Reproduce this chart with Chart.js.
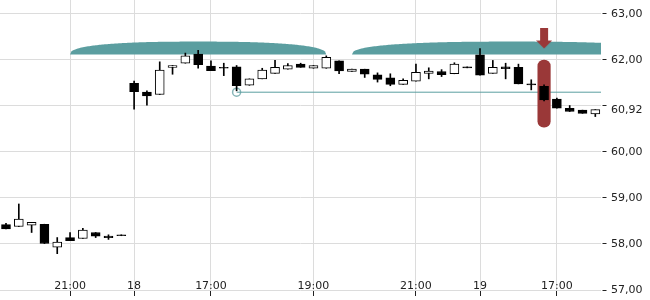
<!DOCTYPE html>
<html>
<head>
<meta charset="utf-8">
<script src="https://cdn.jsdelivr.net/npm/chart.js@4.4.1/dist/chart.umd.min.js"></script>
<style>
html,body{margin:0;padding:0;background:#fff;}
#wrap{width:650px;height:300px;}
</style>
</head>
<body>
<div id="wrap"><canvas id="c" width="650" height="300"></canvas></div>
<script>
// ---- data ----
const opens  = [58.42,58.38,58.41,58.43,57.93,58.14,58.12,58.25,58.17,58.20,
                61.49,61.30,61.25,61.84,61.93,62.13,61.87,61.84,61.85,61.45,
                61.59,61.71,61.80,61.91,61.82,61.82,61.98,61.75,61.80,61.68,
                61.61,61.47,61.54,61.71,61.75,61.70,61.85,62.11,61.71,61.85,
                61.84,61.48,61.43,61.15,60.95,60.91,60.83];
const highs  = [58.45,58.87,58.47,58.43,58.14,58.25,58.34,58.25,58.20,58.20,
                61.54,61.33,61.96,61.88,62.15,62.21,61.98,61.93,61.88,61.59,
                61.82,61.99,61.92,61.93,61.88,62.09,61.98,61.80,61.80,61.72,
                61.70,61.59,61.91,61.83,61.79,61.94,61.85,62.25,61.99,61.93,
                61.91,61.57,61.46,61.17,61.01,60.91,60.92];
const lows   = [58.33,58.38,58.25,58.01,57.79,58.07,58.12,58.14,58.10,58.18,
                60.93,61.02,61.25,61.69,61.93,61.82,61.77,61.66,61.33,61.45,
                61.59,61.71,61.80,61.84,61.82,61.82,61.70,61.75,61.62,61.52,
                61.44,61.47,61.54,61.59,61.64,61.70,61.83,61.67,61.71,61.59,
                61.48,61.35,61.11,60.95,60.88,60.84,60.77];
const closes = [58.33,58.54,58.47,58.01,58.04,58.07,58.30,58.17,58.14,58.18,
                61.31,61.22,61.78,61.88,62.09,61.90,61.77,61.82,61.44,61.59,
                61.78,61.84,61.88,61.84,61.88,62.06,61.76,61.80,61.69,61.58,
                61.47,61.56,61.73,61.76,61.68,61.91,61.83,61.67,61.84,61.81,
                61.48,61.46,61.13,60.95,60.88,60.84,60.92];

const xTickIdx    = [5, 10, 16, 24, 32, 37, 43];
const xTickLabels = ['21:00', '18', '17:00', '19:00', '21:00', '19', '17:00'];
const yTickValues = [57, 58, 59, 60, 60.92, 61, 62, 63];
const yTickLabels = ['57,00', '58,00', '59,00', '60,00', '60,92', '', '62,00', '63,00'];

const xMin = -0.468, xMax = 46.444;
const yMin = 57, yMax = 63.304;

// level line (teal) starting at candle 18
const levelStartIdx = 18;
const levelValue = 61.30;
// highlighted candle (red pill + arrow)
const markIdx = 42;
const pillRange = [60.54, 62.00];
const arrowValue = 62.467;
// teal domes
const domeStart = [5, 27];
const domeEnd   = [25, 52];
const domeLow = 62.12, domeHigh = 62.40;

// ---- build datasets ----
const n = opens.length;
const wickData = [], bodyData = [], bodyColors = [];
for (let i = 0; i < n; i++) {
  wickData.push({x: i, y: [lows[i], highs[i]]});
  bodyData.push({x: i, y: [opens[i], closes[i]]});
  bodyColors.push(closes[i] > opens[i] ? '#ffffff' : '#000000');
}

const TEAL = '#5b9ea0';
const RED = '#9a3838';

// arrow image for point style
const arrow = document.createElement('canvas');
arrow.width = 16; arrow.height = 21;
(function(){
  const a = arrow.getContext('2d');
  a.fillStyle = RED;
  a.fillRect(4, 0, 8, 13);
  a.beginPath();
  a.moveTo(0, 12.5); a.lineTo(16, 12.5); a.lineTo(8, 20.5); a.closePath();
  a.fill();
})();

const domePlugin = {
  id: 'domes',
  beforeDatasetsDraw(chart) {
    const {ctx, chartArea, scales} = chart;
    const xs = scales.x, ys = scales.y;
    ctx.save();
    ctx.beginPath();
    ctx.rect(chartArea.left, chartArea.top, chartArea.right - chartArea.left, chartArea.bottom - chartArea.top);
    ctx.clip();
    ctx.fillStyle = TEAL;
    const yb = ys.getPixelForValue(domeLow), yt = ys.getPixelForValue(domeHigh);
    for (let k = 0; k < domeStart.length; k++) {
      const x0 = xs.getPixelForValue(domeStart[k]);
      const x1 = xs.getPixelForValue(domeEnd[k]);
      const cx = (x0 + x1) / 2, rx = (x1 - x0) / 2, ry = yb - yt;
      ctx.beginPath();
      ctx.moveTo(x0, yb);
      for (let t = 0; t <= 200; t++) {
        const u = -1 + 2 * t / 200;
        const h = Math.pow(Math.max(0, 1 - Math.pow(Math.abs(u), 2.5)), 1 / 2.5);
        ctx.lineTo(cx + u * rx, yb - h * ry);
      }
      ctx.closePath();
      ctx.fill();
    }
    ctx.restore();
  }
};

Chart.defaults.font.family = "'DejaVu Sans', sans-serif";
Chart.defaults.font.size = 11;
Chart.defaults.color = '#222';

new Chart(document.getElementById('c'), {
  type: 'bar',
  data: {
    datasets: [
      {
        type: 'line',
        data: [{x: levelStartIdx, y: levelValue}, {x: xMax, y: levelValue}],
        borderColor: TEAL,
        borderWidth: 1,
        pointRadius: [4, 0],
        pointBorderColor: 'rgba(95,158,160,0.75)',
        pointBackgroundColor: 'rgba(0,0,0,0)',
        pointBorderWidth: 1.5,
        fill: false,
        order: 10
      },
      {
        type: 'bar',
        data: [{x: markIdx, y: pillRange}],
        backgroundColor: RED,
        borderWidth: 0,
        borderSkipped: false,
        borderRadius: 7,
        barThickness: 12.5,
        maxBarThickness: 12.5,
        grouped: false,
        order: 9
      },
      {
        type: 'bar',
        data: wickData,
        backgroundColor: '#000',
        borderWidth: 0,
        barThickness: 1,
        maxBarThickness: 1,
        grouped: false,
        order: 8
      },
      {
        type: 'bar',
        data: bodyData,
        backgroundColor: bodyColors,
        borderColor: '#000',
        borderWidth: 1,
        borderSkipped: false,
        barThickness: 9,
        maxBarThickness: 9,
        grouped: false,
        order: 7
      },
      {
        type: 'line',
        data: [{x: markIdx, y: arrowValue}],
        showLine: false,
        pointStyle: arrow,
        pointRadius: 8,
        order: 1
      }
    ]
  },
  options: {
    responsive: false,
    animation: false,
    devicePixelRatio: 1,
    events: [],
    layout: {padding: 0, autoPadding: false},
    plugins: {legend: {display: false}, tooltip: {enabled: false}},
    scales: {
      x: {
        type: 'linear',
        min: xMin, max: xMax,
        bounds: 'data',
        offset: false,
        position: 'bottom',
        afterBuildTicks: s => { s.ticks = xTickIdx.map(v => ({value: v})); },
        afterFit: s => { s.height = 10; s.paddingLeft = 0; s.paddingRight = 0; },
        ticks: {
          autoSkip: false, maxRotation: 0, minRotation: 0, mirror: true, padding: -3,
          color: '#222',
          callback: v => { const k = xTickIdx.indexOf(v); return k >= 0 ? xTickLabels[k] : ''; }
        },
        grid: {offset: false, color: '#dcdcdc', tickColor: '#222', tickLength: 6, tickWidth: 1},
        border: {display: false}
      },
      y: {
        type: 'linear',
        min: yMin, max: yMax,
        bounds: 'data',
        position: 'right',
        afterBuildTicks: s => { s.ticks = yTickValues.map(v => ({value: v})); },
        afterFit: s => { s.width = 49; s.paddingTop = 0; s.paddingBottom = 0; },
        ticks: {
          autoSkip: false, padding: 4, color: '#222',
          callback: v => { const k = yTickValues.indexOf(v); return k >= 0 ? yTickLabels[k] : ''; }
        },
        grid: {
          color: c => (c.tick && c.tick.value === 60.92) ? 'rgba(0,0,0,0)' : '#dcdcdc',
          tickColor: c => (c.tick && c.tick.value === 60.92) ? 'rgba(0,0,0,0)' : '#222',
          tickLength: 6,
          tickBorderDash: [0, 1.5, 4, 50]
        },
        border: {display: false}
      }
    }
  },
  plugins: [domePlugin]
});
</script>
</body>
</html>
